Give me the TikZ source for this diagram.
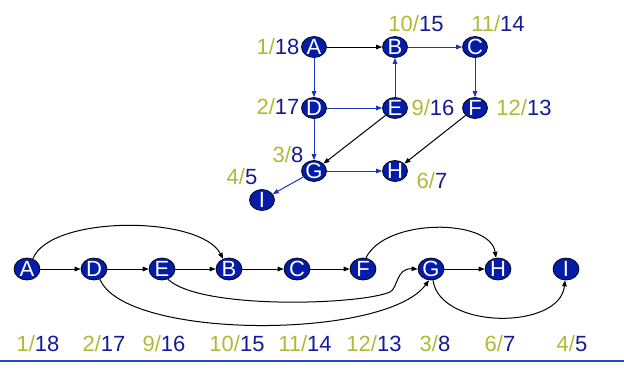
\documentclass[tikz,border=0pt]{standalone}
\usepackage{fontspec}
\setmainfont{Liberation Sans}
\usetikzlibrary{shapes.geometric,arrows.meta}
\definecolor{nodefill}{RGB}{4,28,168}
\definecolor{numblue}{RGB}{22,26,150}
\definecolor{numolive}{RGB}{172,188,52}
\definecolor{edgeblue}{RGB}{28,52,192}
\definecolor{rule}{RGB}{44,70,196}
% centred white letter that does not enlarge its ellipse
\newcommand{\vlet}[1]{\smash{\raisebox{-0.36em}{\makebox[0pt]{#1}}}}
% discovery/finish time pair
\newcommand{\dfpair}[2]{\textcolor{numolive}{#1/}\textcolor{numblue}{#2}}
\begin{document}
\begin{tikzpicture}[x=1pt,y=-1pt,
  font=\fontsize{22}{24}\selectfont,
  vtx/.style={ellipse,draw=black,line width=0.7pt,fill=nodefill,text=white,
    inner sep=0pt,minimum width=25pt,minimum height=21pt},
  vtxb/.style={vtx,minimum width=26pt,minimum height=22pt},
  times/.style={inner sep=0pt,anchor=center},
  tip/.style={-{Triangle[length=6pt,width=4.6pt]}},
  blk/.style={tip,line width=1pt,draw=black},
  blu/.style={tip,line width=1pt,draw=edgeblue}]
\useasboundingbox (0,0) rectangle (624,368);

% ---- graph ----
\node[vtx] (A) at (314,47) {\vlet{A}};
\node[vtx] (B) at (395,47) {\vlet{B}};
\node[vtx] (C) at (475,47) {\vlet{C}};
\node[vtx] (D) at (314,108) {\vlet{D}};
\node[vtx] (E) at (395,108) {\vlet{E}};
\node[vtx] (F) at (475,108) {\vlet{F}};
\node[vtx] (G) at (314,171) {\vlet{G}};
\node[vtx] (H) at (395,171) {\vlet{H}};
\node[vtx] (I) at (262,200) {\vlet{I}};

\draw[blk] (A) -- (B);
\draw[blu] (B) -- (C);
\draw[blu] (A) -- (D);
\draw[blu] (D) -- (E);
\draw[blu] (E) -- (B);
\draw[blu] (C) -- (F);
\draw[blu] (D) -- (G);
\draw[blk] (E) -- (G);
\draw[blk] (F) -- (H);
\draw[blu] (G) -- (H);
\draw[blu] (G) -- (I);

\node[times] (tA) at (278,47) {\dfpair{1}{18}};
\node[times] (tB) at (416,24) {\dfpair{10}{15}};
\node[times] (tC) at (498,24) {\dfpair{11}{14}};
\node[times] (tD) at (278,107) {\dfpair{2}{17}};
\node[times] (tE) at (433,108) {\dfpair{9}{16}};
\node[times] (tF) at (524,108) {\dfpair{12}{13}};
\node[times] (tG) at (288,155) {\dfpair{3}{8}};
\node[times] (tI) at (242,177) {\dfpair{4}{5}};
\node[times] (tH) at (432,181) {\dfpair{6}{7}};

% ---- topological order ----
\node[vtxb] (a) at (27,269) {\vlet{A}};
\node[vtxb] (d) at (94,269) {\vlet{D}};
\node[vtxb] (e) at (162,269) {\vlet{E}};
\node[vtxb] (b) at (229,269) {\vlet{B}};
\node[vtxb] (c) at (297,269) {\vlet{C}};
\node[vtxb] (f) at (363,269) {\vlet{F}};
\node[vtxb] (g) at (431,269) {\vlet{G}};
\node[vtxb] (h) at (498,269) {\vlet{H}};
\node[vtxb] (i) at (566,269) {\vlet{I}};

\draw[blk] (a) -- (d);
\draw[blk] (d) -- (e);
\draw[blk] (e) -- (b);
\draw[blk] (b) -- (c);
\draw[blk] (c) -- (f);
\draw[blk] (g) -- (h);

\draw[blk] (a.60) .. controls (50,215) and (200,215) .. (b.120);
\draw[blk] (f.75) .. controls (385,218) and (490,218) .. (h.100);
\draw[blk] (d.-60) .. controls (125,340) and (385,340) .. (g.-100);
\draw[blk] (e.-60) .. controls (200,310) and (360,305) .. (390,292)
                   .. controls (398,288) and (396,268) .. (g.west);
\draw[blk] (g.-80) .. controls (440,330) and (560,330) .. (i.-95);

\node[times] (ta) at (38,344) {\dfpair{1}{18}};
\node[times] (td) at (104,344) {\dfpair{2}{17}};
\node[times] (te) at (164,344) {\dfpair{9}{16}};
\node[times] (tb) at (237,344) {\dfpair{10}{15}};
\node[times] (tc) at (305,344) {\dfpair{11}{14}};
\node[times] (tf) at (374,344) {\dfpair{12}{13}};
\node[times] (tg) at (435,344) {\dfpair{3}{8}};
\node[times] (th) at (500,344) {\dfpair{6}{7}};
\node[times] (ti) at (572,344) {\dfpair{4}{5}};

% bottom rule
\draw[rule,line width=1.4pt] (0,361) -- (624,361);
\end{tikzpicture}
\end{document}
